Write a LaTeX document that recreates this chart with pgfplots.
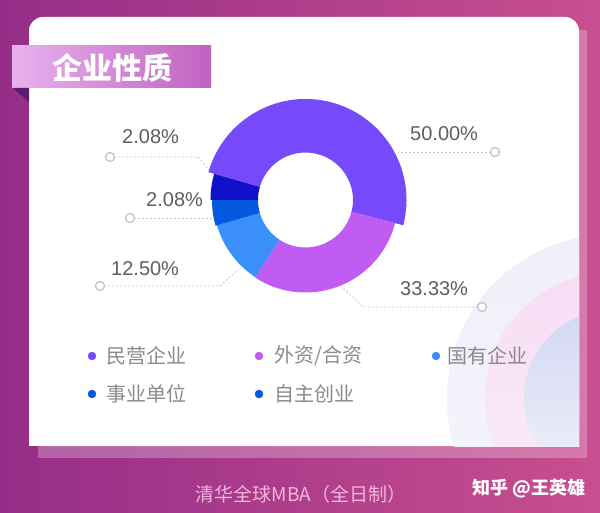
\documentclass[border=0pt]{standalone}
\usepackage{pgfplots}
\pgfplotsset{compat=1.18}
\usepackage{pgfplotstable}
\usepackage{fontspec}
\setmainfont{Liberation Sans}
\newfontfamily\cjk{Noto Sans CJK SC}

\definecolor{c0}{HTML}{7649FB}
\definecolor{c1}{HTML}{C05CF2}
\definecolor{c2}{HTML}{3A90F8}
\definecolor{c3}{HTML}{0559E0}
\definecolor{c4}{HTML}{1111C9}
\definecolor{frameL}{HTML}{952D88}
\definecolor{frameR}{HTML}{C84F8F}
\definecolor{tabL}{HTML}{E8B2EE}
\definecolor{tabR}{HTML}{C062C0}
\definecolor{fold}{HTML}{5A1C6B}
\definecolor{pcttext}{HTML}{5E5E5E}
\definecolor{legtext}{HTML}{8A8A8A}
\definecolor{leader}{HTML}{C6C6C6}
\definecolor{leaderdot}{HTML}{BDBDBD}
\definecolor{foot}{HTML}{F1B6DC}
\definecolor{ringA}{HTML}{EEEFFA}
\definecolor{ringAb}{HTML}{F6F6FC}
\definecolor{ringB}{HTML}{F7DDF4}
\definecolor{ringBb}{HTML}{FBEDF9}
\definecolor{ringC}{HTML}{D3D7F2}
\definecolor{ringCb}{HTML}{F1F2FB}

\tikzset{
  pct/.style={font=\fontsize{20}{24}\selectfont, text=pcttext, anchor=west, inner sep=0pt},
  leg/.style={font=\cjk\fontsize{20}{24}\selectfont, text=legtext, anchor=west, inner sep=0pt},
}
\pgfplotsset{
  leaderline/.style={leader, dash pattern=on 2pt off 2pt, line width=0.8pt,
    mark=*, mark repeat=100, mark phase=1, mark size=4.5pt,
    mark options={solid, fill=white, draw=leaderdot, line width=1.1pt}},
  legdot/.style={only marks, mark=*, mark size=4pt, color=#1},
}

% slices: value (%), start/end angle, outer radius (px),
% label left x / centre y (px)
\pgfplotstableread{
idx value start  stop   r     lx   ly
0   50.00  164.0  -14.5 101.0 410  134
1   33.33  -14.5 -123.0  92.5 400  289
2   12.50 -123.0 -164.0  92.0 111  269
3   2.08  -164.0 -180.0  93.5 146  200
4   2.08  -180.0 -196.0  95.0 122  137
}\slices

\begin{document}
\begin{tikzpicture}
\begin{axis}[
  x=1pt, y=1pt, y dir=reverse,
  xmin=0, xmax=600, ymin=0, ymax=513,
  hide axis, clip=false,
]
% frame and card
\shade[left color=frameL, right color=frameR] (axis cs:0,0) rectangle (axis cs:600,513);
\fill[white, opacity=0.25] (axis cs:38,30) rectangle (axis cs:587,458);
\fill[white, rounded corners=14pt] (axis cs:29,17) rectangle (axis cs:579,446);
\fill[white] (axis cs:29,100) rectangle (axis cs:579,446);
\begin{scope}
  \clip (axis cs:29,100) rectangle (axis cs:579,446);
  \shade[top color=ringA, bottom color=ringAb] (axis cs:610,398) circle[radius=163pt];
  \shade[top color=ringB, bottom color=ringBb] (axis cs:610,398) circle[radius=125pt];
  \shade[top color=ringC, bottom color=ringCb] (axis cs:612,398) circle[radius=88pt];
\end{scope}

% title tab
\shade[left color=tabL, right color=tabR] (axis cs:12,46) rectangle (axis cs:211,88);
\fill[fold] (axis cs:13,88) -- (axis cs:29,88) -- (axis cs:29,102) -- cycle;
\node[font=\cjk\bfseries\fontsize{30}{34}\selectfont, text=white, inner sep=0pt]
  at (axis cs:112.5,68) {企业性质};

% leader lines
\addplot[leaderline] coordinates {(110,157) (198,157) (211,172)};
\addplot[leaderline] coordinates {(130,218) (212,218)};
\addplot[leaderline] coordinates {(100,286) (220,286) (238,270)};
\addplot[leaderline] coordinates {(495,152) (398,152)};
\addplot[leaderline] coordinates {(482,307) (363,307) (343,288)};

% donut slices and their labels
\pgfplotsinvokeforeach{0,...,4}{
  \pgfplotstablegetelem{#1}{start}\of\slices \let\slA\pgfplotsretval
  \pgfplotstablegetelem{#1}{stop}\of\slices \let\slB\pgfplotsretval
  \pgfplotstablegetelem{#1}{r}\of\slices \let\slR\pgfplotsretval
  \pgfplotstablegetelem{#1}{value}\of\slices \let\slV\pgfplotsretval
  \pgfplotstablegetelem{#1}{lx}\of\slices \let\slX\pgfplotsretval
  \pgfplotstablegetelem{#1}{ly}\of\slices \let\slY\pgfplotsretval
  \pgfmathsetmacro\slD{47.5-\slR}
  \edef\temp{
    \noexpand\fill[c#1] (axis cs:305.5,200) ++(canvas polar cs:angle=\slA,radius=\slR pt)
      arc[start angle=\slA,end angle=\slB,radius=\slR pt]
      -- ++(canvas polar cs:angle=\slB,radius=\slD pt)
      arc[start angle=\slB,end angle=\slA,radius=47.5pt] -- cycle;
    \noexpand\node[pct] at (axis cs:\slX,\slY) {\slV\noexpand\%};
  }
  \temp
}

% legend
\addplot[legdot=c0] coordinates {(92,356)};
\addplot[legdot=c1] coordinates {(259,356)};
\addplot[legdot=c2] coordinates {(436,356)};
\addplot[legdot=c3] coordinates {(92,394)};
\addplot[legdot=c3] coordinates {(259,394)};
\node[leg] at (axis cs:106,356) {民营企业};
\node[leg] at (axis cs:274,356) {外资/合资};
\node[leg] at (axis cs:447,356) {国有企业};
\node[leg] at (axis cs:106,394) {事业单位};
\node[leg] at (axis cs:274,394) {自主创业};

% footer
\node[font=\cjk\fontsize{19}{22}\selectfont, text=foot, inner sep=0pt] at (axis cs:301,494) {清华全球MBA（全日制）};
\node[font=\cjk\bfseries\fontsize{18}{22}\selectfont, text=white, inner sep=0pt, anchor=west] at (axis cs:472,489) {知乎 @王英雄};
\end{axis}
\end{tikzpicture}
\end{document}
